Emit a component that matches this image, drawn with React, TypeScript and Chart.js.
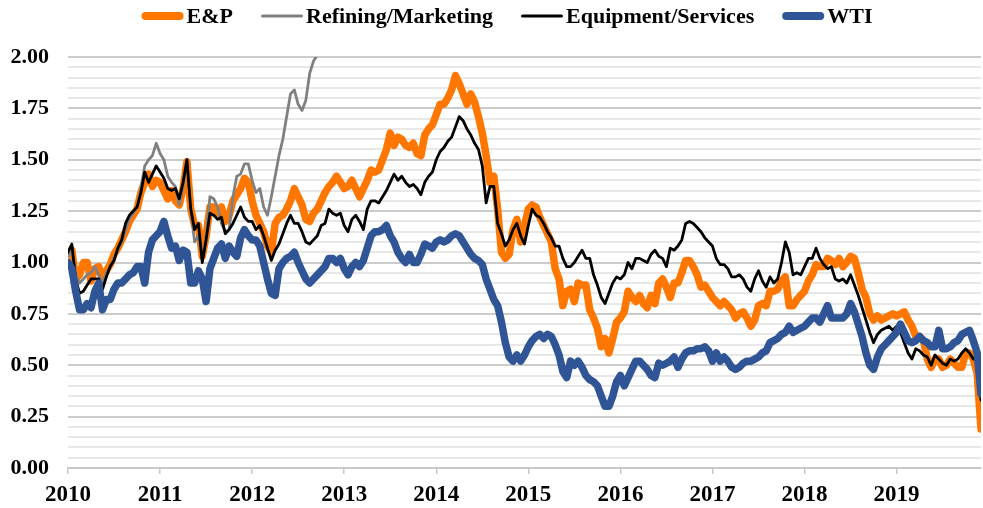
import React, { useEffect, useRef } from 'react';
import { Chart, registerables } from 'chart.js';

Chart.register(...registerables);

// Half-month sampling grid starting in January 2010
const START_YEAR = 2010;
const STEPS_PER_YEAR = 24;

const yearTicks = [2010, 2011, 2012, 2013, 2014, 2015, 2016, 2017, 2018, 2019];
const yLabelTicks = [0, 0.25, 0.5, 0.75, 1, 1.25, 1.5, 1.75, 2];
const Y_GRID_STEP = 0.05;

const epValues = [
  1.05, 1.06, 0.92, 0.94, 1.00, 1.00, 0.91, 0.97, 0.98, 0.92, 0.96, 0.99, 1.04, 1.07, 1.11, 1.15, 1.20, 1.23, 1.26, 1.34,
  1.39, 1.43, 1.37, 1.40, 1.39, 1.35, 1.31, 1.35, 1.30, 1.28, 1.36, 1.49, 1.26, 1.18, 1.18, 1.03, 1.13, 1.27, 1.27, 1.24,
  1.27, 1.20, 1.23,
  1.30, 1.33, 1.36, 1.41, 1.39, 1.30, 1.23, 1.19, 1.15, 1.08, 1.05, 1.19, 1.22, 1.23, 1.26, 1.30, 1.36, 1.32, 1.28, 1.21,
  1.20, 1.24, 1.26, 1.30, 1.34, 1.37, 1.39, 1.42, 1.39, 1.36, 1.37, 1.40, 1.36, 1.32, 1.36, 1.40, 1.45, 1.44, 1.45, 1.50,
  1.55, 1.63,
  1.57, 1.61, 1.60, 1.57, 1.56, 1.58, 1.53, 1.52, 1.62, 1.65, 1.67, 1.72, 1.77, 1.77, 1.80, 1.84, 1.91, 1.87, 1.82, 1.77,
  1.82, 1.78, 1.71, 1.63, 1.52, 1.39, 1.42, 1.26, 1.05, 1.02, 1.04, 1.16, 1.21, 1.10, 1.18, 1.26, 1.28, 1.27, 1.22, 1.18,
  1.14, 1.10, 0.97,
  0.92, 0.79, 0.86, 0.87, 0.81, 0.90, 0.89, 0.89, 0.77, 0.73, 0.68, 0.59, 0.63, 0.56, 0.63, 0.71, 0.73, 0.76, 0.86, 0.83,
  0.81, 0.84, 0.80, 0.78, 0.84, 0.80, 0.90, 0.92, 0.88, 0.83, 0.90, 0.90, 0.95, 1.01, 1.01, 0.98, 0.94, 0.88, 0.89, 0.86,
  0.83, 0.81, 0.79,
  0.81, 0.79, 0.77, 0.73, 0.75, 0.76, 0.73, 0.69, 0.72, 0.79, 0.80, 0.79, 0.86, 0.86, 0.87, 0.91, 0.93, 0.79, 0.79, 0.82,
  0.84, 0.86, 0.91, 0.94, 0.99, 0.98, 0.98, 1.02, 1.01, 0.99, 1.02, 0.98, 1.00, 1.03,
  1.02, 0.95, 0.87, 0.83, 0.75, 0.72, 0.74, 0.72, 0.73, 0.74, 0.75, 0.74, 0.75, 0.76, 0.72, 0.69, 0.64, 0.64, 0.62, 0.53,
  0.49, 0.53, 0.53, 0.49, 0.50, 0.53, 0.51, 0.49, 0.49, 0.56, 0.56, 0.53, 0.46, 0.19,
];

const refiningValues = [
  1.03, 1.06, 0.94, 0.90, 0.92, 0.94, 0.95, 0.98, 0.94, 0.90, 0.95, 0.98, 1.02, 1.06, 1.10, 1.16, 1.21, 1.24, 1.27, 1.36,
  1.47, 1.50, 1.52, 1.58, 1.53, 1.50, 1.42, 1.39, 1.37, 1.28, 1.37, 1.50, 1.26, 1.10, 1.13, 1.02, 1.13, 1.32, 1.31, 1.27,
  1.19, 1.15, 1.16,
  1.32, 1.42, 1.43, 1.48, 1.48, 1.40, 1.34, 1.36, 1.27, 1.23, 1.32, 1.42, 1.52, 1.60, 1.71, 1.82, 1.84, 1.77, 1.74, 1.79,
  1.92, 1.98, 2.01, 2.04, 2.08, 2.12, 2.15, 2.18,
];

const equipmentValues = [
  1.05, 1.09, 0.92, 0.85, 0.86, 0.89, 0.92, 0.92, 0.92, 0.87, 0.93, 0.98, 1.01, 1.07, 1.11, 1.19, 1.23, 1.25, 1.27, 1.34,
  1.44, 1.39, 1.43, 1.47, 1.44, 1.41, 1.36, 1.35, 1.36, 1.31, 1.39, 1.50, 1.26, 1.16, 1.19, 1.00, 1.11, 1.24, 1.23, 1.21,
  1.22, 1.14, 1.16,
  1.19, 1.23, 1.27, 1.22, 1.20, 1.20, 1.16, 1.18, 1.13, 1.07, 1.01, 1.06, 1.09, 1.14, 1.19, 1.23, 1.19, 1.19, 1.15, 1.10,
  1.09, 1.11, 1.13, 1.18, 1.19, 1.26, 1.24, 1.23, 1.24, 1.18, 1.15, 1.21, 1.23, 1.20, 1.16, 1.26, 1.30, 1.30, 1.29, 1.32,
  1.35, 1.39,
  1.43, 1.40, 1.42, 1.39, 1.37, 1.38, 1.36, 1.33, 1.39, 1.42, 1.44, 1.50, 1.54, 1.56, 1.59, 1.61, 1.66, 1.71, 1.69, 1.65,
  1.62, 1.58, 1.55, 1.47, 1.29, 1.37, 1.37, 1.19, 1.14, 1.08, 1.11, 1.16, 1.19, 1.13, 1.09, 1.18, 1.26, 1.23, 1.22, 1.19,
  1.15, 1.12, 1.08,
  1.08, 1.02, 0.98, 0.98, 1.00, 1.03, 1.06, 1.02, 1.02, 0.94, 0.89, 0.83, 0.80, 0.85, 0.90, 0.93, 0.92, 0.94, 1.00, 0.97,
  1.02, 1.02, 1.01, 1.00, 1.04, 1.06, 1.03, 1.02, 0.98, 1.07, 1.06, 1.08, 1.11, 1.19, 1.20, 1.19, 1.17, 1.15, 1.12, 1.10,
  1.08, 1.02, 0.99,
  0.99, 0.97, 0.93, 0.93, 0.94, 0.92, 0.88, 0.86, 0.92, 0.96, 0.91, 0.88, 0.93, 0.90, 0.92, 1.00, 1.10, 1.05, 0.94, 0.95,
  0.94, 0.98, 1.02, 1.02, 1.07, 1.02, 0.99, 0.97, 0.98, 0.92, 0.91, 0.92, 0.90, 0.94,
  0.89, 0.84, 0.78, 0.72, 0.66, 0.61, 0.65, 0.67, 0.68, 0.69, 0.67, 0.69, 0.66, 0.61, 0.56, 0.53, 0.58, 0.57, 0.55, 0.54,
  0.50, 0.55, 0.53, 0.51, 0.50, 0.53, 0.52, 0.53, 0.56, 0.58, 0.56, 0.53, 0.53, 0.33,
];

const wtiValues = [
  1.00, 0.97, 0.86, 0.77, 0.77, 0.80, 0.78, 0.86, 0.90, 0.77, 0.82, 0.82, 0.87, 0.90, 0.90, 0.92, 0.94, 0.95, 0.98, 0.98,
  0.90, 1.05, 1.11, 1.13, 1.15, 1.20, 1.13, 1.07, 1.08, 1.01, 1.06, 1.05, 0.90, 0.90, 0.96, 0.92, 0.81, 0.97, 1.02, 1.07,
  1.09, 1.02, 1.08,
  1.05, 1.03, 1.12, 1.16, 1.13, 1.11, 1.11, 1.08, 1.00, 0.92, 0.85, 0.84, 0.97, 1.00, 1.02, 1.03, 1.05, 1.00, 0.96, 0.92,
  0.90, 0.92, 0.94, 0.96, 0.98, 1.02, 1.02, 1.00, 1.02, 0.97, 0.94, 0.98, 1.00, 0.98, 1.01, 1.07, 1.13, 1.15, 1.15, 1.16,
  1.18, 1.13,
  1.10, 1.05, 1.02, 1.00, 1.04, 1.00, 1.00, 1.04, 1.09, 1.08, 1.07, 1.10, 1.11, 1.10, 1.11, 1.13, 1.14, 1.13, 1.10, 1.07,
  1.04, 1.02, 1.01, 0.99, 0.92, 0.87, 0.82, 0.79, 0.71, 0.61, 0.54, 0.52, 0.55, 0.52, 0.55, 0.59, 0.62, 0.64, 0.65, 0.63,
  0.65, 0.64, 0.60,
  0.55, 0.47, 0.44, 0.52, 0.50, 0.52, 0.49, 0.45, 0.43, 0.42, 0.40, 0.35, 0.30, 0.30, 0.35, 0.42, 0.45, 0.40, 0.44, 0.48,
  0.52, 0.52, 0.50, 0.48, 0.45, 0.44, 0.51, 0.50, 0.51, 0.52, 0.54, 0.49, 0.53, 0.56, 0.57, 0.57, 0.58, 0.58, 0.59, 0.57,
  0.52, 0.56, 0.52,
  0.54, 0.52, 0.49, 0.48, 0.49, 0.51, 0.52, 0.52, 0.53, 0.54, 0.56, 0.57, 0.61, 0.62, 0.63, 0.65, 0.66, 0.69, 0.66, 0.67,
  0.68, 0.69, 0.71, 0.73, 0.73, 0.71, 0.75, 0.79, 0.73, 0.73, 0.73, 0.73, 0.75, 0.80,
  0.76, 0.70, 0.64, 0.56, 0.50, 0.48, 0.54, 0.58, 0.60, 0.62, 0.64, 0.66, 0.70, 0.66, 0.62, 0.61, 0.62, 0.64, 0.62, 0.61,
  0.59, 0.59, 0.67, 0.58, 0.58, 0.59, 0.61, 0.62, 0.65, 0.66, 0.67, 0.62, 0.56, 0.36,
];

const dates = epValues.map((_, k) => START_YEAR + k / STEPS_PER_YEAR);

const seriesNames = ['E&P', 'Refining/Marketing', 'Equipment/Services', 'WTI'];
const seriesColors = ['#FF7700', '#808080', '#000000', '#2F5597'];
const seriesWidths = [7.5, 2.8, 2.8, 7.5];
const seriesValues = [epValues, refiningValues, equipmentValues, wtiValues];

const FONT_FAMILY = '"Liberation Serif", "Times New Roman", serif';

const isMajor = (v: number) => yLabelTicks.some((t) => Math.abs(t - v) < 1e-6);

const yGridValues: number[] = [];
for (let i = 0; i * Y_GRID_STEP <= 2 + 1e-9; i++) yGridValues.push(Math.round(i * Y_GRID_STEP * 100) / 100);

// Minor horizontal grid lines (every 0.05) drawn beneath the datasets
const minorGridPlugin = {
  id: 'minorGrid',
  beforeDatasetsDraw(chart: any) {
    const ctx = chart.ctx as CanvasRenderingContext2D;
    const { left, right } = chart.chartArea;
    const yScale = chart.scales.y;
    ctx.save();
    ctx.strokeStyle = '#e0e0e0';
    ctx.lineWidth = 1.5;
    yGridValues.forEach((v) => {
      if (isMajor(v)) return;
      const py = Math.round(yScale.getPixelForValue(v));
      ctx.beginPath();
      ctx.moveTo(left, py);
      ctx.lineTo(right, py);
      ctx.stroke();
    });
    ctx.restore();
  },
};

const legendPlugin = {
  id: 'topLegend',
  afterDraw(chart: any) {
    const ctx = chart.ctx as CanvasRenderingContext2D;
    ctx.save();
    ctx.font = `bold 22px ${FONT_FAMILY}`;
    const markerW = 42;
    const textGap = 3;
    const itemGap = 28;
    const widths = seriesNames.map((n) => ctx.measureText(n).width);
    const total =
      widths.reduce((a, w) => a + markerW + textGap + w, 0) + itemGap * (seriesNames.length - 1);
    const centerX = 507;
    const y = 16;
    let x = centerX - total / 2;
    seriesNames.forEach((name, i) => {
      const lw = seriesWidths[i] >= 5 ? 8 : 3;
      ctx.strokeStyle = seriesColors[i];
      ctx.lineWidth = lw;
      ctx.lineCap = 'round';
      ctx.beginPath();
      ctx.moveTo(x + lw / 2, y);
      ctx.lineTo(x + markerW - lw / 2, y);
      ctx.stroke();
      ctx.fillStyle = '#000';
      ctx.textBaseline = 'middle';
      ctx.textAlign = 'left';
      ctx.fillText(name, x + markerW + textGap, y + 1);
      x += markerW + textGap + widths[i] + itemGap;
    });
    ctx.restore();
  },
};

export default function App() {
  const canvasRef = useRef<HTMLCanvasElement | null>(null);

  useEffect(() => {
    const canvas = canvasRef.current;
    if (!canvas) return;
    const datasets = seriesValues.map((vals, i) => ({
      label: seriesNames[i],
      data: vals.map((v, k) => ({ x: dates[k], y: v })),
      borderColor: seriesColors[i],
      backgroundColor: seriesColors[i],
      borderWidth: seriesWidths[i],
      pointRadius: 0,
      pointHoverRadius: 0,
      tension: 0,
      borderJoinStyle: 'round' as const,
      borderCapStyle: 'round' as const,
      fill: false,
      order: seriesNames.length - i,
    }));

    const chart = new Chart(canvas, {
      type: 'line',
      data: { datasets },
      plugins: [minorGridPlugin, legendPlugin],
      options: {
        responsive: false,
        animation: false,
        layout: { padding: { top: 57, right: 2, left: 0, bottom: 0 } },
        plugins: {
          legend: { display: false },
          tooltip: { enabled: false },
        },
        scales: {
          x: {
            type: 'linear',
            min: START_YEAR,
            max: dates[dates.length - 1],
            afterFit: (s: any) => {
              s.height = 40;
            },
            afterBuildTicks: (s: any) => {
              s.ticks = yearTicks.map((v) => ({ value: v }));
            },
            ticks: {
              source: 'data',
              includeBounds: false,
              autoSkip: false,
              maxRotation: 0,
              padding: 7,
              color: '#000',
              font: { family: FONT_FAMILY, size: 23, weight: 'bold' },
              callback: (v: any) => String(v),
            },
            grid: {
              display: true,
              drawOnChartArea: false,
              drawTicks: true,
              tickLength: 6,
              tickColor: '#c8c8c8',
              lineWidth: 1.5,
            },
            border: { display: true, color: '#c8c8c8', width: 1.5 },
          },
          y: {
            type: 'linear',
            min: 0,
            max: 2,
            afterFit: (s: any) => {
              s.width = 68;
            },
            afterBuildTicks: (s: any) => {
              s.ticks = yLabelTicks.map((v) => ({ value: v }));
            },
            ticks: {
              source: 'data',
              autoSkip: false,
              padding: 19,
              color: '#000',
              font: { family: FONT_FAMILY, size: 22, weight: 'bold' },
              callback: (v: any) => Number(v).toFixed(2),
            },
            grid: {
              drawTicks: false,
              color: '#cccccc',
              lineWidth: 2,
            },
            border: { display: false },
          },
        },
      },
    });
    return () => chart.destroy();
  }, []);

  return (
    <div style={{ position: 'fixed', left: 0, top: 0, width: 983, height: 508, background: '#fff' }}>
      <canvas ref={canvasRef} width={983} height={508} />
    </div>
  );
}
